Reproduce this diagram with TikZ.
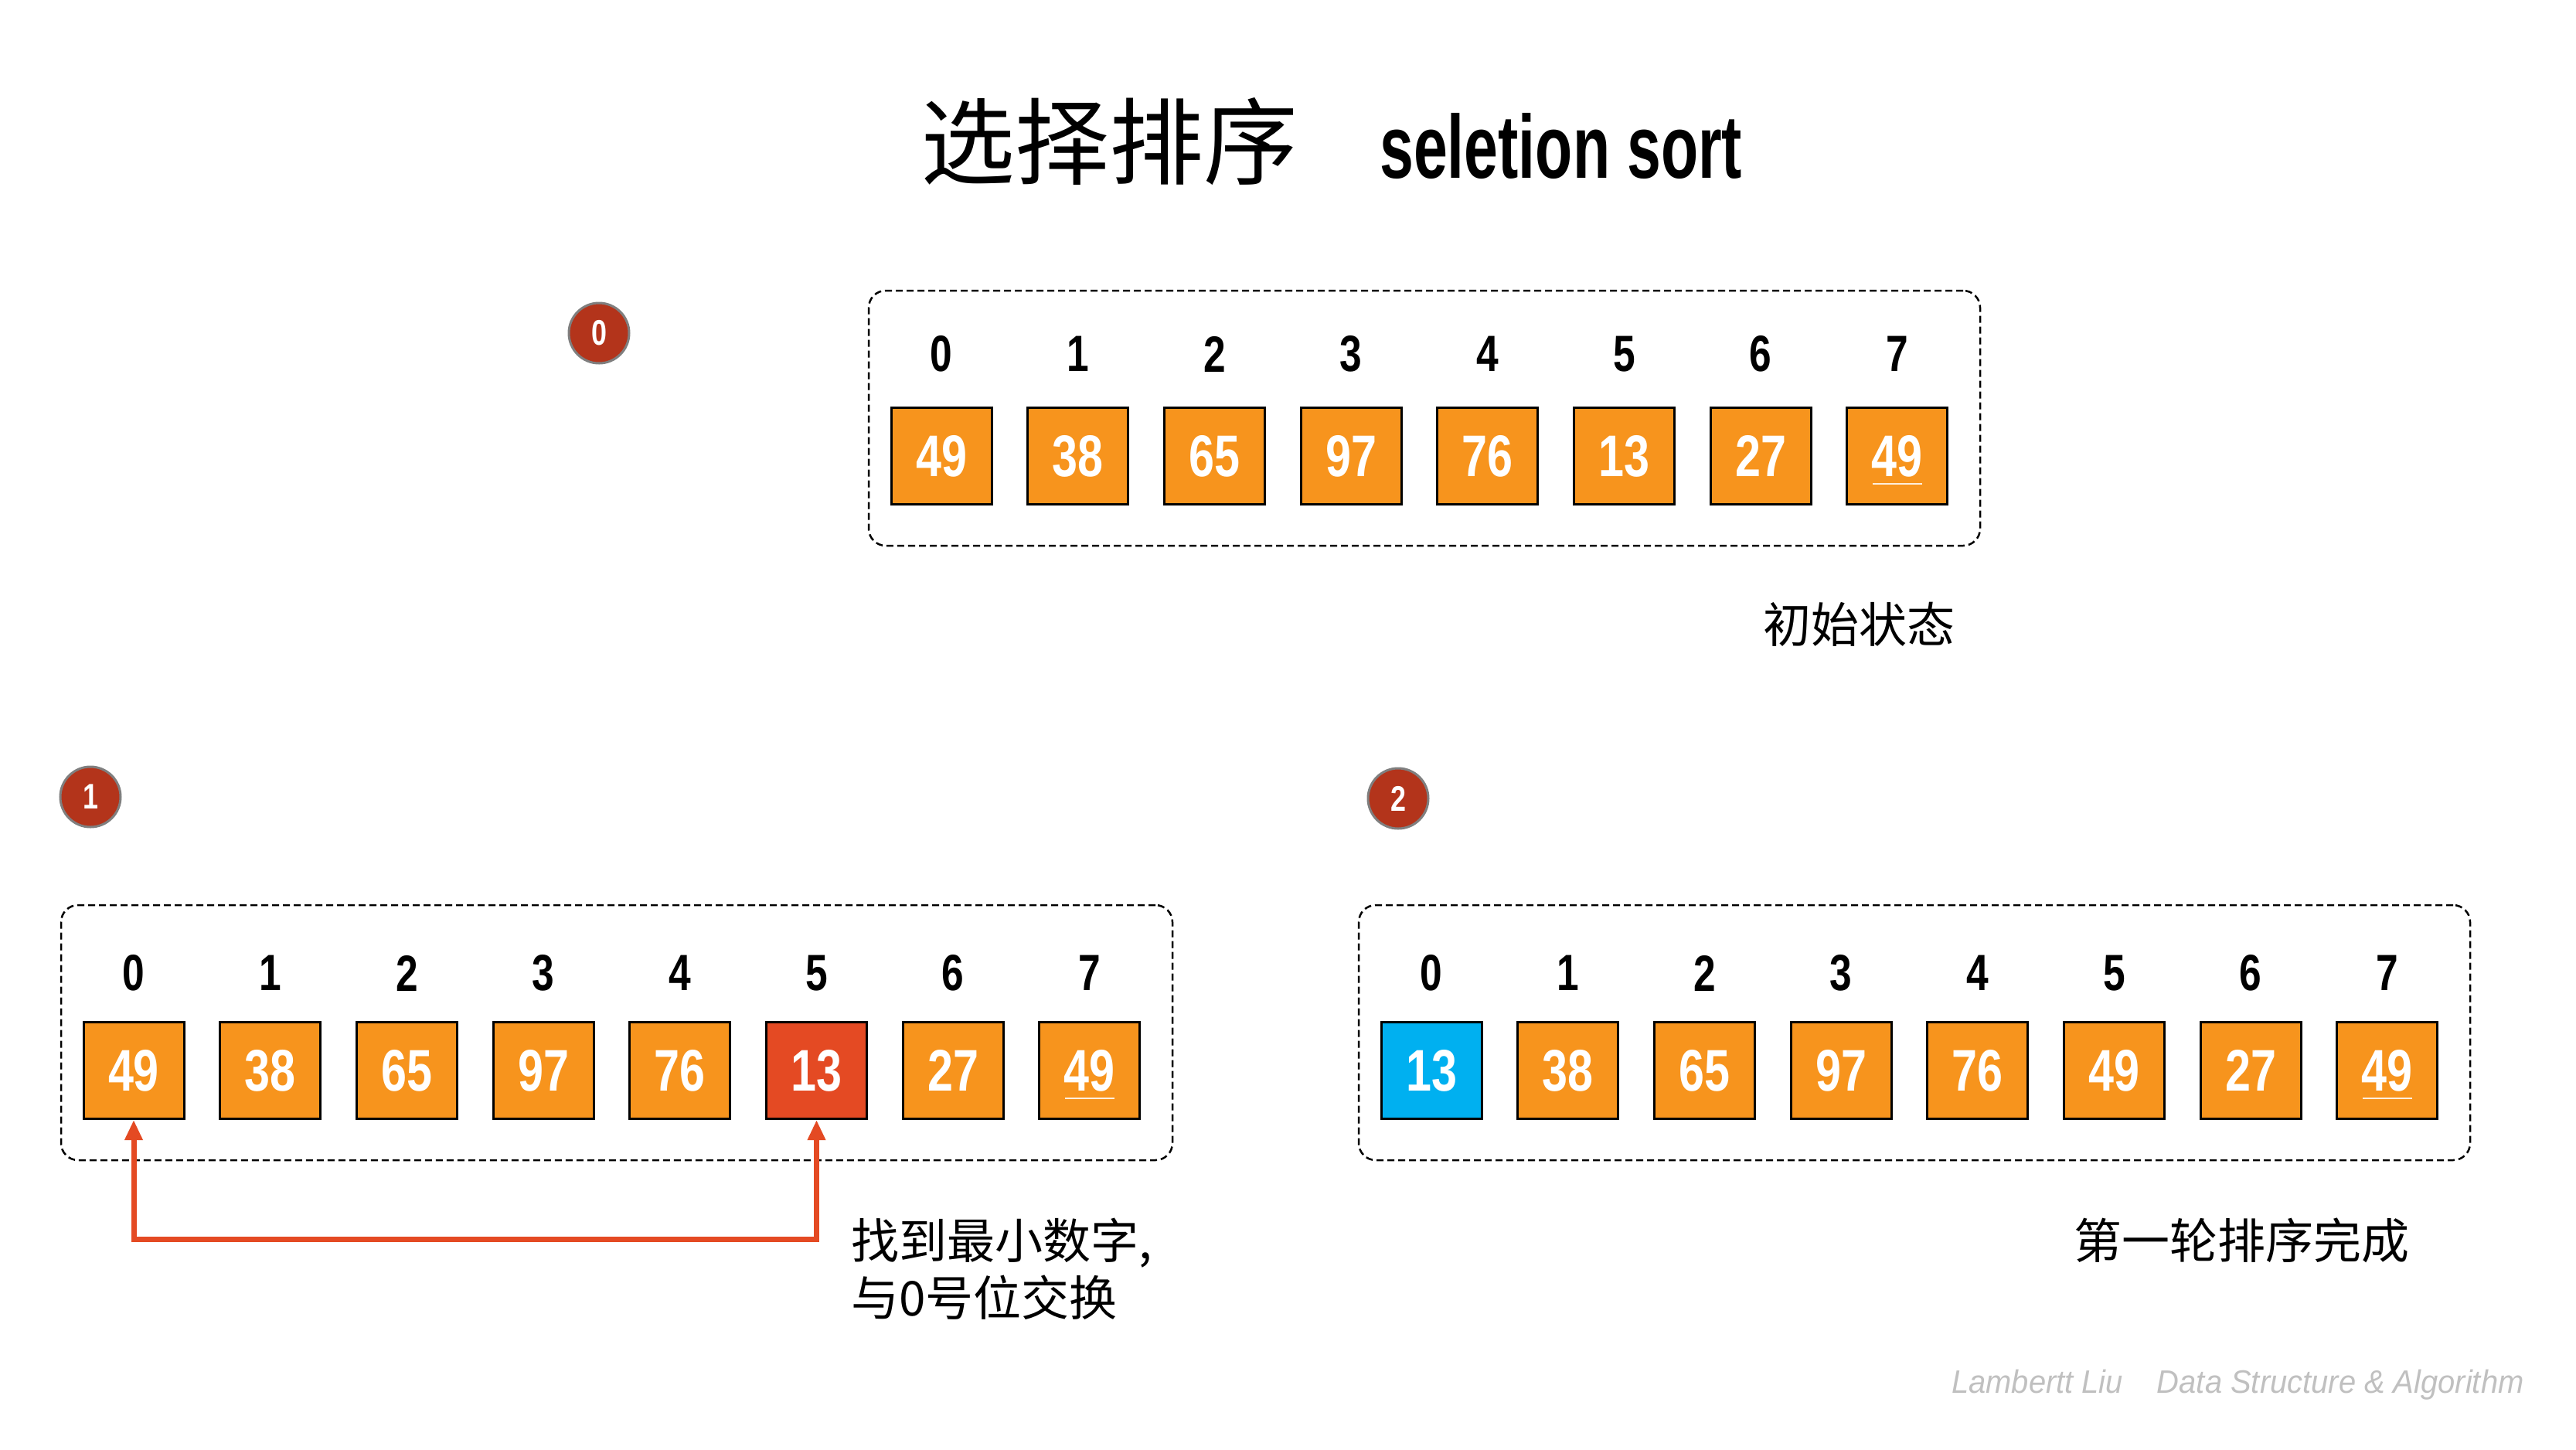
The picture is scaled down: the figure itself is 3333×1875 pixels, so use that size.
\documentclass[tikz,border=0pt]{standalone}
\usepackage{fontspec}
\usetikzlibrary{arrows.meta}
\newfontfamily\cjk{Noto Sans CJK SC}
\newfontfamily\condf{Liberation Sans}[FakeStretch=0.78]
\newfontfamily\titlef{Liberation Sans}[FakeStretch=0.68]
\newfontfamily\footf{Liberation Sans}[FakeStretch=0.95]
\definecolor{orng}{HTML}{F7941D}
\definecolor{redbox}{HTML}{E44A23}
\definecolor{bluebox}{HTML}{00B0F0}
\definecolor{badgered}{HTML}{B3341B}
\definecolor{badgegray}{HTML}{7F7F7F}
\definecolor{footgray}{HTML}{C0C0C0}
\begin{document}
\begin{tikzpicture}[x=1pt,y=-1pt,
  cell/.style={draw=black, line width=3pt, minimum width=130pt, minimum height=125pt, inner sep=0pt, text=white, font=\condf\bfseries\fontsize{76}{80}\selectfont},
  idx/.style={inner sep=0pt, font=\condf\bfseries\fontsize{66}{70}\selectfont},
  frame/.style={draw=black, dash pattern=on 9pt off 5pt, line width=2.5pt, rounded corners=22pt, minimum width=1438pt, minimum height=330pt, inner sep=0pt},
  badge/.style={circle, fill=badgered, draw=badgegray, line width=3pt, minimum size=78pt, inner sep=0pt, text=white, font=\condf\bfseries\fontsize{46}{50}\selectfont},
  note/.style={font=\cjk\fontsize{62}{74}\selectfont, inner sep=0pt},
  swap/.style={draw=redbox, line width=7pt, {Triangle[width=22pt,length=26pt]}-{Triangle[width=22pt,length=26pt]}},
  uline/.style={draw=white!85!orng, line width=1.5pt}
]
\path[use as bounding box, fill=white] (0,0) rectangle (3333,1875);

% title
\node[inner sep=0pt, font=\cjk\fontsize{122}{130}\selectfont] (tcn) at (1435,183) {选择排序};
\node[inner sep=0pt, anchor=base west, font=\titlef\bfseries\fontsize{116}{120}\selectfont] (ten) at (1785,230) {seletion sort};

% group 0 (top)
\node[frame] (f0) at (1843,541) {};
\node[badge] (b0) at (775,431) {0};
\foreach \v [count=\i from 0] in {49,38,65,97,76,13,27,49} {
  \node[idx] (tl\i) at (1218+\i*176.7,458) {\i};
  \node[cell, fill=orng] (t\i) at (1218+\i*176.7,590) {\v};
}
\draw[uline] ([xshift=-32pt,yshift=-36pt]t7.center) -- ([xshift=32pt,yshift=-36pt]t7.center);
\node[note] (n0) at (2405,808) {初始状态};

% group 1 (bottom left)
\node[frame] (f1) at (798,1336) {};
\node[badge] (b1) at (117,1031) {1};
\foreach \v/\c [count=\i from 0] in {49/orng,38/orng,65/orng,97/orng,76/orng,13/redbox,27/orng,49/orng} {
  \node[idx] (al\i) at (173+\i*176.7,1259) {\i};
  \node[cell, fill=\c] (a\i) at (173+\i*176.7,1385) {\v};
}
\draw[uline] ([xshift=-32pt,yshift=-36pt]a7.center) -- ([xshift=32pt,yshift=-36pt]a7.center);
\coordinate (ay) at (0,1603);
\draw[swap] (a0.south) -- (a0.south |- ay) -- (a5.south |- ay) -- (a5.south);
\node[note, anchor=west, align=left] (n1) at (1101,1642) {找到最小数字,\\与0号位交换};

% group 2 (bottom right)
\node[frame] (f2) at (2477,1336) {};
\node[badge] (b2) at (1809,1033) {2};
\foreach \v/\c [count=\i from 0] in {13/bluebox,38/orng,65/orng,97/orng,76/orng,49/orng,27/orng,49/orng} {
  \node[idx] (bl\i) at (1852+\i*176.7,1259) {\i};
  \node[cell, fill=\c] (c\i) at (1852+\i*176.7,1385) {\v};
}
\draw[uline] ([xshift=-32pt,yshift=-36pt]c7.center) -- ([xshift=32pt,yshift=-36pt]c7.center);
\node[note] (n2) at (2900,1605) {第一轮排序完成};

% footer
\node[inner sep=0pt, anchor=west, text=footgray, font=\footf\itshape\fontsize{42}{46}\selectfont] (foot) at (2525,1792) {Lambertt Liu\hspace{44pt}Data Structure \& Algorithm};
\end{tikzpicture}
\end{document}
